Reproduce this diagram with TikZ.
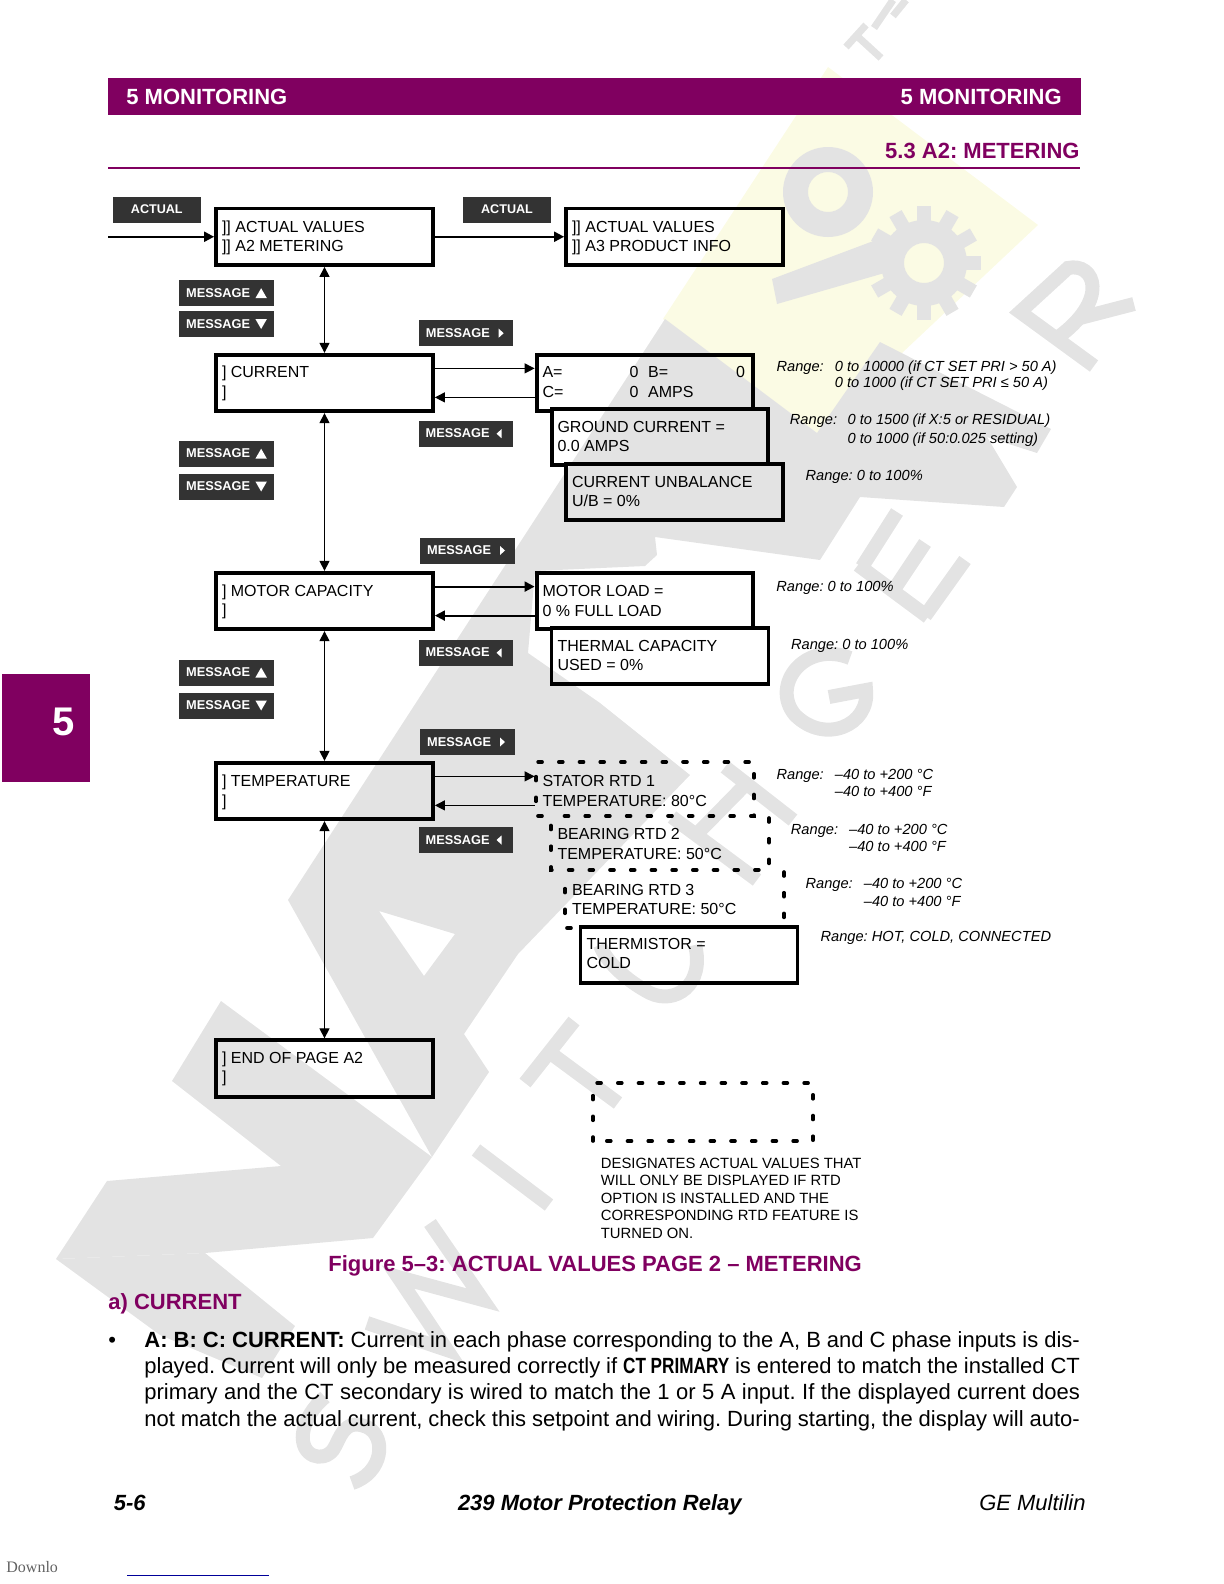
\documentclass[tikz,border=0pt]{standalone}
\usepackage{fontspec}
\setmainfont{Liberation Sans}
\newfontfamily\condfont{Liberation Sans}[FakeStretch=0.78]
\newfontfamily\serifx{Liberation Serif}
\usetikzlibrary{arrows.meta}
\frenchspacing
\definecolor{gepurple}{HTML}{800060}
\definecolor{btn}{HTML}{333333}
\definecolor{wm}{HTML}{E3E3E3}
\definecolor{wmy}{HTML}{FBFBE4}
\tikzset{
  lcdbox/.style={draw=black,line width=1.9pt,inner xsep=3pt,inner ysep=0pt,anchor=center},
  lcdopen/.style={lcdbox,draw=none},
  lcdline/.style={line width=1.9pt,draw=black},
  dotbox/.style={line width=1.8pt,draw=black,line cap=round,dash pattern=on 2pt off 8.35pt},
  btnact/.style={fill=btn,draw=none,inner sep=0pt,minimum width=43.7pt,minimum height=12.9pt,text height=4.5pt,text depth=0.8pt,text=white,font=\fontsize{6.3}{7}\selectfont\bfseries},
  btnmsg/.style={fill=btn,draw=none,inner xsep=3.4pt,inner ysep=0pt,text width=40.3pt,align=left,minimum height=13pt,text height=4.6pt,text depth=0.6pt,text=white,font=\fontsize{6.4}{7}\selectfont\bfseries},
  thinflow/.style={line width=0.6pt,-{Triangle[length=5pt,width=5pt]}},
  thickflow/.style={line width=1pt,-{Triangle[length=5pt,width=5pt]}},
  vflow/.style={line width=0.6pt,{Triangle[length=5pt,width=5pt]}-{Triangle[length=5pt,width=5pt]}},
  rangetxt/.style={anchor=base west,inner sep=0pt,font=\fontsize{7.32}{8}\selectfont\itshape},
  headtxt/.style={inner sep=0pt,text=gepurple,font=\fontsize{11}{13}\selectfont\bfseries},
  bodytxt/.style={inner sep=0pt,anchor=base west,font=\fontsize{11}{13}\selectfont},
  wmstroke/.style={draw=wm,line width=7pt,line cap=butt,line join=miter},
  wmthin/.style={draw=wm,line width=3.6pt,line cap=butt,line join=miter},
}
% box text: distance from box top to first baseline, then the two lines
\newcommand{\lcdtext}[3][11.7pt]{\parbox[c][28.25pt][t]{102.5pt}{\fontsize{8}{9.7}\selectfont\raggedright\rule{0pt}{#1}#2\\#3}}
\newcommand{\triU}[1]{\fill[white] ([shift={(-18.5,5)}]#1.east) -- ([shift={(-7,5)}]#1.east) -- ([shift={(-12.75,-5)}]#1.east) -- cycle;}
\newcommand{\triD}[1]{\fill[white] ([shift={(-18.5,-5)}]#1.east) -- ([shift={(-7,-5)}]#1.east) -- ([shift={(-12.75,5)}]#1.east) -- cycle;}
\newcommand{\triR}[1]{\fill[white] ([shift={(-15,-4.5)}]#1.east) -- ([shift={(-10,0)}]#1.east) -- ([shift={(-15,4.5)}]#1.east) -- cycle;}
\newcommand{\triL}[1]{\fill[white] ([shift={(-12,-4.5)}]#1.east) -- ([shift={(-17,0)}]#1.east) -- ([shift={(-12,4.5)}]#1.east) -- cycle;}
\newcommand{\rngtwo}[4]{\parbox[t]{170pt}{\baselineskip=#2\makebox[#1][l]{Range:}#3\\\hspace*{#1}#4}}
\newcommand{\jline}[1]{\hbox to 467.75pt{#1}}
\begin{document}
\begin{tikzpicture}[x=0.5pt,y=-0.5pt]
\useasboundingbox (0,0) rectangle (1224,1584);
% ---- watermark ----
\fill[wmy] (828,67) -- (1038,225) -- (817,433) -- (663,319) -- cycle;
\fill[wm,even odd rule] (56,1259) -- (107,1181) -- (281,1166) -- (172,1081) -- (221,1001) -- (432,1157) -- (373,1238) -- (205,1253) -- cycle;
\fill[wm] (56,1259) -- (205,1253) -- (295,1326) -- (262,1378) -- (160,1335) -- cycle;
\fill[wm,even odd rule] (288,900) -- (665,319) -- (817,433) -- (880,342) -- (1051,429) -- (1037,453) -- (987,437) -- (1017,487) -- (1004,507) -- (860,497) -- (820,560) -- (655,537) -- (657,555) -- (645,566) -- (535,571) -- (528,653) -- (600,703) -- (690,775) -- (518,954) -- (464,1034) -- (489,1072) -- (432,1157) -- cycle
  (379,911) -- (455,934) -- (424,976) -- cycle;
\fill[wm,even odd rule] (828,192) circle (45) (828,192) circle (20);
\fill[wm] (772,279) -- (884,237) -- (888,272) -- (777,304) -- cycle;
\fill[wm,even odd rule] (924,263) circle (43) (924,263) circle (20);
\foreach \a in {0,30,...,330} {
  \fill[wm,rotate around={\a:(924,263)}] (917,206) rectangle (931,227);
}
% R
\draw[wmstroke] (1094,366) -- (1020,312) -- (1068,268) .. controls (1095,262) and (1110,300) .. (1057,338);
\draw[wmstroke] (1080,318) -- (1134,304);
% E
\draw[wmstroke] (858,565) -- (928,617);
\draw[wmstroke] (862,567) -- (897,512);
\draw[wmstroke] (893,591) -- (925,543);
\draw[wmstroke] (925,616) -- (965,560);
% G
\draw[wmstroke] (850,658) .. controls (805,640) and (770,685) .. (795,715) .. controls (825,745) and (870,725) .. (866,690) -- (829,697);
% H
\draw[wmstroke] (725,767) -- (793,820);
\draw[wmstroke] (672,817) -- (757,880);
\draw[wmstroke] (693,838) -- (743,787);
% C
\draw[wmstroke] (695,945) .. controls (705,985) and (675,1005) .. (650,993) .. controls (625,980) and (605,960) .. (600,945);
% T
\draw[wmstroke] (525,1083) -- (574,1021);
\draw[wmstroke] (549,1052) -- (618,1103);
% I
\draw[wmstroke] (476,1150) -- (549,1205);
% W
\draw[wmstroke] (430,1223) -- (483,1300) -- (398,1277) -- (447,1350) -- (367,1323);
% S
\draw[wmstroke] (352,1483) .. controls (383,1473) and (387,1437) .. (367,1427) .. controls (343,1417) and (340,1440) .. (333,1450) .. controls (323,1463) and (300,1457) .. (303,1433) .. controls (305,1420) and (313,1407) .. (325,1397);
% TM
\draw[wmthin] (846,47) -- (866,25);
\draw[wmthin] (857,36) -- (881,58);
\draw[wmthin] (874,28) -- (893,0);
\draw[wmthin] (893,16) -- (906,0);
% ---- page furniture ----
\fill[gepurple] (108,78) rectangle (1081,115);
\draw[gepurple,line width=0.7pt] (108,168) -- (1080,168);
\fill[gepurple] (2,674) rectangle (90,782);
\node[inner sep=0pt,anchor=base west,text=white,font=\fontsize{11}{13}\selectfont\bfseries] (headl) at (126,104.5) {5 MONITORING};
\node[inner sep=0pt,anchor=base east,text=white,font=\fontsize{11}{13}\selectfont\bfseries] (headr) at (1062,104.5) {5 MONITORING};
\node[headtxt,anchor=base east] (sect) at (1080,158.5) {5.3 A2: METERING};
\node[inner sep=0pt,anchor=base,text=white,font=\fontsize{20}{22}\selectfont\bfseries] (tab) at (63.5,735) {5};
% ---- buttons ----
\node[btnact] (ba1) at (156.8,210) {ACTUAL};
\node[btnact] (ba2) at (507,210) {ACTUAL};
\foreach \n/\cy in {mu1/293.2,mu2/453.7,mu3/672.5} {
  \node[btnmsg] (\n) at (226.4,\cy) {MESSAGE};
  \triU{\n}
}
\foreach \n/\cy in {md1/324,md2/486.5,md3/705.5} {
  \node[btnmsg] (\n) at (226.4,\cy) {MESSAGE};
  \triD{\n}
}
\foreach \n/\cx/\cy in {mr1/466.2/333.2,mr2/467.5/550.5,mr3/467.5/742} {
  \node[btnmsg] (\n) at (\cx,\cy) {MESSAGE};
  \triR{\n}
}
\foreach \n/\cy in {ml1/433.7,ml2/652.8,ml3/840} {
  \node[btnmsg] (\n) at (466,\cy) {MESSAGE};
  \triL{\n}
}
% ---- display boxes ----
\node[lcdbox] (a2m) at (324.5,236.75) {\lcdtext[12pt]{]] ACTUAL VALUES}{]] A2 METERING}};
\node[lcdbox] (a3p) at (674.5,236.75) {\lcdtext[12pt]{]] ACTUAL VALUES}{]] A3 PRODUCT INFO}};
\node[lcdbox] (cur) at (324.5,383) {\lcdtext[11.5pt]{] CURRENT}{]}};
\node[lcdbox] (mot) at (324.5,601) {\lcdtext[11.9pt]{] MOTOR CAPACITY}{]}};
\node[lcdbox] (tem) at (324.5,791) {\lcdtext[12pt]{] TEMPERATURE}{]}};
\node[lcdbox] (eop) at (324.5,1068.5) {\lcdtext[11.4pt]{] END OF PAGE A2}{]}};
\node[lcdopen] (aeq) at (645,383) {\lcdtext[11.6pt]{\makebox[43.6pt][l]{A=}\makebox[9.25pt][l]{0}\makebox[44pt][l]{B=}0}{\makebox[43.6pt][l]{C=}\makebox[9.25pt][l]{0}AMPS}};
\node[lcdopen] (gnd) at (660,437) {\lcdtext{GROUND CURRENT =}{0.0 AMPS}};
\node[lcdbox] (unb) at (674.5,492) {\lcdtext{CURRENT UNBALANCE}{U/B = 0\%}};
\node[lcdopen] (mld) at (645,601) {\lcdtext[12pt]{MOTOR LOAD =}{0 \% FULL LOAD}};
\node[lcdbox] (thc) at (660,656) {\lcdtext{THERMAL CAPACITY}{USED = 0\%}};
\node[lcdopen] (st1) at (645,789) {\lcdtext[13pt]{STATOR RTD 1}{TEMPERATURE: 80°C}};
\node[lcdopen] (br2) at (660,843) {\lcdtext[12.6pt]{BEARING RTD 2}{TEMPERATURE: 50°C}};
\node[lcdopen] (br3) at (674.5,899) {\lcdtext[12.4pt]{BEARING RTD 3}{TEMPERATURE: 50°C}};
\node[lcdbox] (ths) at (689,955) {\lcdtext[11.4pt]{THERMISTOR =}{COLD}};
% partly hidden outlines
\draw[lcdline] (753,409) -- (753,355) -- (537,355) -- (537,411) -- (553,411);
\draw[lcdline] (768,464) -- (768,409) -- (552,409) -- (552,465) -- (566,465);
\draw[lcdline] (753,627) -- (753,573) -- (537,573) -- (537,629) -- (552,629);
\draw[dotbox] (542,816) -- (536,816) -- (536,762) -- (754,762) -- (754,816) -- (552,816);
\draw[dotbox] (769,818) -- (769,870) -- (551,870) -- (551,820);
\draw[dotbox] (784,872) -- (784,924);
\draw[dotbox] (571,928) -- (565,928) -- (565,874);
\draw[dotbox] (593,1141) -- (593,1083) -- (813,1083) -- (813,1141) -- cycle;
% ---- connectors ----
\coordinate (inp) at (108,236.75);
\draw[thickflow] (inp) -- (a2m.west);
\draw[thickflow] (a2m.east) -- (a3p.west);
\draw[vflow] (a2m.south) -- (cur.north);
\draw[vflow] (cur.south) -- (mot.north);
\draw[vflow] (mot.south) -- (tem.north);
\draw[vflow] (tem.south) -- (eop.north);
\draw[thinflow] ([yshift=7.3pt]cur.east) -- ([yshift=7.3pt]aeq.west);
\draw[thinflow] ([yshift=-7.2pt]aeq.west) -- ([yshift=-7.2pt]cur.east);
\draw[thickflow] ([yshift=7.2pt]mot.east) -- ([yshift=7.2pt]mld.west);
\draw[thickflow] ([yshift=-7.3pt]mld.west) -- ([yshift=-7.3pt]mot.east);
\draw[thinflow] ([yshift=7.3pt]tem.east) -- ([yshift=6.3pt]st1.west);
\draw[thinflow] ([yshift=-8.2pt]st1.west) -- ([yshift=-7.2pt]tem.east);
% ---- ranges ----
\node[rangetxt] (r1) at (776.2,371) {\rngtwo{29.15pt}{8.35pt}{0 to 10000 (if CT SET PRI > 50 A)}{0 to 1000 (if CT SET PRI ≤ 50 A)}};
\node[rangetxt] (r2) at (789.5,424.8) {\rngtwo{28.85pt}{9.2pt}{0 to 1500 (if X:5 or RESIDUAL)}{0 to 1000 (if 50:0.025 setting)}};
\node[rangetxt] (r3) at (805.2,480.5) {Range: 0 to 100\%};
\node[rangetxt] (r4) at (776,591) {Range: 0 to 100\%};
\node[rangetxt] (r5) at (790.7,649) {Range: 0 to 100\%};
\node[rangetxt] (r6) at (776.2,779) {\rngtwo{29.15pt}{8.7pt}{–40 to +200 °C}{–40 to +400 °F}};
\node[rangetxt] (r7) at (790.5,834) {\rngtwo{29.15pt}{8.7pt}{–40 to +200 °C}{–40 to +400 °F}};
\node[rangetxt] (r8) at (805.2,888.4) {\rngtwo{29.15pt}{8.8pt}{–40 to +200 °C}{–40 to +400 °F}};
\node[rangetxt] (r9) at (820.2,941.4) {Range: HOT, COLD, CONNECTED};
% ---- legend ----
\node[anchor=base west,inner sep=0pt,font=\fontsize{7.42}{8}\selectfont] (leg) at (600.5,1168) {\parbox[t]{160pt}{\baselineskip=8.75pt DESIGNATES ACTUAL VALUES THAT\\WILL ONLY BE DISPLAYED IF RTD\\OPTION IS INSTALLED AND THE\\CORRESPONDING RTD FEATURE IS\\TURNED ON.}};
% ---- text below ----
\node[headtxt,anchor=base west] (figc) at (328,1271.4) {Figure 5–3: ACTUAL VALUES PAGE 2 – METERING};
\node[headtxt,anchor=base west] (suba) at (108,1309.4) {a) CURRENT};
\node[bodytxt] (bul) at (108,1347.4) {•};
\node[bodytxt] (body) at (144,1347.4) {\parbox[t]{467.75pt}{\baselineskip=13.1pt
\jline{\textbf{A: B: C: CURRENT:} Current in each phase corresponding to the A, B and C phase inputs is dis-}
\jline{played. Current will only be measured correctly if {\condfont\bfseries CT PRIMARY} is entered to match the installed CT}
\jline{primary and the CT secondary is wired to match the 1 or 5 A input. If the displayed current does}
\jline{not match the actual current, check this setpoint and wiring. During starting, the display will auto-}}};
\node[bodytxt,font=\fontsize{11}{13}\selectfont\bfseries\itshape] (fl) at (113.5,1510) {5-6};
\node[bodytxt,font=\fontsize{11}{13}\selectfont\bfseries\itshape] (fc) at (457.6,1510) {239 Motor Protection Relay};
\node[bodytxt,anchor=base east,font=\fontsize{11}{13}\selectfont\itshape] (fr) at (1086,1510) {GE Multilin};
\node[inner sep=0pt,anchor=base west,text=black!62,font=\serifx\fontsize{8}{9}\selectfont] (dl) at (6,1572) {Downlo};
\draw[draw={rgb,255:red,0;green,0;blue,153},line width=0.5pt] (127,1575) -- (269,1575);
\end{tikzpicture}
\end{document}
